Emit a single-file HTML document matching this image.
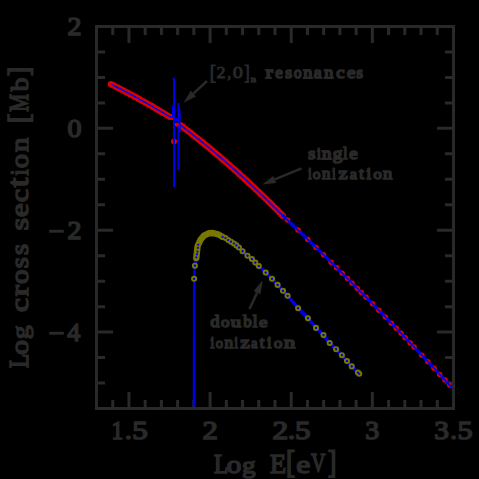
<!DOCTYPE html>
<html><head><meta charset="utf-8"><style>
html,body{margin:0;padding:0;background:#000;width:479px;height:479px;overflow:hidden}
svg{display:block}

</style></head><body>
<svg width="479" height="479" viewBox="0 0 479 479">
<rect width="479" height="479" fill="#000"/>
<rect x="96.5" y="26.5" width="357" height="382" fill="none" stroke="#292929" stroke-width="3"/>
<path d="M112.73 408.5V400.0M112.73 26.5V35.0M128.95 408.5V392.0M128.95 26.5V43.0M145.18 408.5V400.0M145.18 26.5V35.0M161.41 408.5V400.0M161.41 26.5V35.0M177.63 408.5V400.0M177.63 26.5V35.0M193.86 408.5V400.0M193.86 26.5V35.0M210.09 408.5V392.0M210.09 26.5V43.0M226.32 408.5V400.0M226.32 26.5V35.0M242.54 408.5V400.0M242.54 26.5V35.0M258.77 408.5V400.0M258.77 26.5V35.0M275.00 408.5V400.0M275.00 26.5V35.0M291.22 408.5V392.0M291.22 26.5V43.0M307.45 408.5V400.0M307.45 26.5V35.0M323.68 408.5V400.0M323.68 26.5V35.0M339.90 408.5V400.0M339.90 26.5V35.0M356.13 408.5V400.0M356.13 26.5V35.0M372.36 408.5V392.0M372.36 26.5V43.0M388.59 408.5V400.0M388.59 26.5V35.0M404.81 408.5V400.0M404.81 26.5V35.0M421.04 408.5V400.0M421.04 26.5V35.0M437.27 408.5V400.0M437.27 26.5V35.0M96.5 51.97H105.0M453.5 51.97H445.0M96.5 77.43H105.0M453.5 77.43H445.0M96.5 102.90H105.0M453.5 102.90H445.0M96.5 128.37H113.0M453.5 128.37H437.0M96.5 153.83H105.0M453.5 153.83H445.0M96.5 179.30H105.0M453.5 179.30H445.0M96.5 204.77H105.0M453.5 204.77H445.0M96.5 230.24H113.0M453.5 230.24H437.0M96.5 255.70H105.0M453.5 255.70H445.0M96.5 281.17H105.0M453.5 281.17H445.0M96.5 306.64H105.0M453.5 306.64H445.0M96.5 332.10H113.0M453.5 332.10H437.0M96.5 357.57H105.0M453.5 357.57H445.0M96.5 383.04H105.0M453.5 383.04H445.0" stroke="#292929" stroke-width="3" fill="none"/>
<g font-family="Liberation Serif" fill="#292929" stroke="#292929" stroke-width="1.7">
<text transform="matrix(0.9981 0 0 0.9091 67.62 34.63)" font-size="28">2</text>
<text transform="matrix(1.0024 0 0 0.9371 67.48 137.15)" font-size="28">0</text>
<text transform="matrix(0.9981 0 0 0.9091 67.62 238.63)" font-size="28">2</text>
<text transform="matrix(0.9310 0 0 0.9290 67.28 341.21)" font-size="28">4</text>
<rect x="49.2" y="229.8" width="14.6" height="2.9" fill="#292929" stroke="none"/>
<rect x="49.2" y="331.8" width="14.6" height="2.9" fill="#292929" stroke="none"/>
<text transform="matrix(0.8306 0 0 0.9166 111.46 438.82)" font-size="28">1</text>
<text transform="matrix(1.1095 0 0 0.9110 132.14 438.58)" font-size="28">5</text>
<text transform="matrix(1.0909 0 0 0.9141 202.48 438.82)" font-size="28">2</text>
<text transform="matrix(1.1142 0 0 0.9141 272.38 438.82)" font-size="28">2</text>
<text transform="matrix(1.1095 0 0 0.9110 295.04 438.58)" font-size="28">5</text>
<text transform="matrix(0.9950 0 0 0.9019 365.31 438.59)" font-size="28">3</text>
<text transform="matrix(1.0478 0 0 0.9019 434.29 438.59)" font-size="28">3</text>
<text transform="matrix(1.0786 0 0 0.9110 457.46 438.58)" font-size="28">5</text>
<text transform="matrix(1.0382 0 0 0.9184 124.77 439.26)" font-size="28">.</text>
<text transform="matrix(1.0582 0 0 0.9184 287.65 439.26)" font-size="28">.</text>
<text transform="matrix(0.9584 0 0 0.9184 450.15 439.26)" font-size="28">.</text>
<text transform="matrix(0.8077 0 0 0.9425 214.11 472.80)" font-size="29">L</text>
<text transform="matrix(1.0078 0 0 0.8819 226.84 472.80)" font-size="29">o</text>
<text transform="matrix(0.9374 0 0 0.8318 241.93 473.09)" font-size="29">g</text>
<text transform="matrix(0.9104 0 0 0.9280 269.91 472.91)" font-size="29">E</text>
<text transform="matrix(0.9317 0 0 1.0622 286.09 472.98)" font-size="29">[</text>
<text transform="matrix(1.0858 0 0 0.8947 296.29 472.79)" font-size="29">e</text>
<text transform="matrix(0.6912 0 0 0.9182 311.06 472.42)" font-size="29">V</text>
<text transform="matrix(0.8582 0 0 1.0622 328.03 472.98)" font-size="29">]</text>
<g transform="rotate(-90)">
<text transform="matrix(0.8018 0 0 0.9522 -367.89 27.89)" font-size="29">L</text>
<text transform="matrix(1.0221 0 0 0.8755 -354.66 27.91)" font-size="29">o</text>
<text transform="matrix(0.9582 0 0 0.8231 -339.18 27.95)" font-size="29">g</text>
<text transform="matrix(1.0895 0 0 0.8947 -311.98 27.99)" font-size="29">c</text>
<text transform="matrix(1.1500 0 0 0.8786 -296.19 27.95)" font-size="29">r</text>
<text transform="matrix(0.9935 0 0 0.8755 -283.95 27.91)" font-size="29">o</text>
<text transform="matrix(0.9862 0 0 0.8755 -268.13 27.91)" font-size="29">s</text>
<text transform="matrix(0.9862 0 0 0.8755 -254.93 27.91)" font-size="29">s</text>
<text transform="matrix(1.1258 0 0 0.8755 -230.38 27.91)" font-size="29">s</text>
<text transform="matrix(1.0536 0 0 0.8755 -217.10 27.91)" font-size="29">e</text>
<text transform="matrix(1.0417 0 0 0.8691 -202.17 27.92)" font-size="29">c</text>
<text transform="matrix(1.1500 0 0 1.0213 -186.95 27.74)" font-size="29">t</text>
<text transform="matrix(0.7794 0 0 0.8851 -175.51 27.95)" font-size="29">i</text>
<text transform="matrix(0.9863 0 0 0.8947 -168.25 27.99)" font-size="29">o</text>
<text transform="matrix(0.9937 0 0 0.9047 -151.92 28.13)" font-size="29">n</text>
<text transform="matrix(0.9930 0 0 1.0505 -123.29 28.33)" font-size="29">[</text>
<text transform="matrix(0.6938 0 0 0.9377 -111.69 27.80)" font-size="29">M</text>
<text transform="matrix(0.9407 0 0 0.8867 -91.30 27.80)" font-size="29">b</text>
<text transform="matrix(0.9440 0 0 1.0505 -75.89 28.33)" font-size="29">]</text>
</g>
<text transform="matrix(1.0391 0 0 0.8754 265.72 77.72)" font-size="20" stroke-width="2.0">r</text>
<text transform="matrix(0.8402 0 0 0.8606 275.18 77.57)" font-size="20" stroke-width="2.0">e</text>
<text transform="matrix(0.8859 0 0 0.8606 285.16 77.57)" font-size="20" stroke-width="2.0">s</text>
<text transform="matrix(0.7541 0 0 0.8606 293.98 77.57)" font-size="20" stroke-width="2.0">o</text>
<text transform="matrix(0.9076 0 0 0.8754 303.19 77.72)" font-size="20" stroke-width="2.0">n</text>
<text transform="matrix(0.8889 0 0 0.8636 313.86 77.57)" font-size="20" stroke-width="2.0">a</text>
<text transform="matrix(0.9076 0 0 0.8754 324.19 77.72)" font-size="20" stroke-width="2.0">n</text>
<text transform="matrix(0.9263 0 0 0.8606 336.22 77.57)" font-size="20" stroke-width="2.0">c</text>
<text transform="matrix(0.9359 0 0 0.8606 347.00 77.57)" font-size="20" stroke-width="2.0">e</text>
<text transform="matrix(0.8252 0 0 0.8606 356.45 77.57)" font-size="20" stroke-width="2.0">s</text>
<text transform="matrix(0.9102 0 0 0.8606 308.26 158.97)" font-size="20" stroke-width="2.0">s</text>
<text transform="matrix(0.6957 0 0 0.8463 316.90 159.15)" font-size="20" stroke-width="2.0">i</text>
<text transform="matrix(0.9432 0 0 0.8754 322.01 159.12)" font-size="20" stroke-width="2.0">n</text>
<text transform="matrix(0.9573 0 0 0.8263 332.63 159.31)" font-size="20" stroke-width="2.0">g</text>
<text transform="matrix(0.7401 0 0 0.8125 343.24 159.19)" font-size="20" stroke-width="2.0">l</text>
<text transform="matrix(0.9359 0 0 0.8606 349.30 158.97)" font-size="20" stroke-width="2.0">e</text>
<text transform="matrix(0.5921 0 0 0.8201 308.34 179.18)" font-size="20" stroke-width="2.0">i</text>
<text transform="matrix(0.7636 0 0 0.7746 312.68 179.07)" font-size="20" stroke-width="2.0">o</text>
<text transform="matrix(0.8453 0 0 0.7878 321.96 179.21)" font-size="20" stroke-width="2.0">n</text>
<text transform="matrix(0.5921 0 0 0.8201 332.34 179.18)" font-size="20" stroke-width="2.0">i</text>
<text transform="matrix(1.0222 0 0 0.8050 338.47 179.19)" font-size="20" stroke-width="2.0">z</text>
<text transform="matrix(0.8080 0 0 0.7772 349.74 179.07)" font-size="20" stroke-width="2.0">a</text>
<text transform="matrix(0.8283 0 0 0.8547 359.17 178.98)" font-size="20" stroke-width="2.0">t</text>
<text transform="matrix(0.8141 0 0 0.8201 366.47 179.18)" font-size="20" stroke-width="2.0">i</text>
<text transform="matrix(0.8591 0 0 0.7746 373.20 179.07)" font-size="20" stroke-width="2.0">o</text>
<text transform="matrix(0.9254 0 0 0.7878 383.10 179.21)" font-size="20" stroke-width="2.0">n</text>
<text transform="matrix(0.8973 0 0 0.7902 210.55 326.76)" font-size="20" stroke-width="2.0">d</text>
<text transform="matrix(0.8495 0 0 0.7574 221.10 326.79)" font-size="20" stroke-width="2.0">o</text>
<text transform="matrix(1.0356 0 0 0.7736 230.86 326.78)" font-size="20" stroke-width="2.0">u</text>
<text transform="matrix(0.8453 0 0 0.7902 243.15 326.76)" font-size="20" stroke-width="2.0">b</text>
<text transform="matrix(0.8437 0 0 0.7999 252.71 326.90)" font-size="20" stroke-width="2.0">l</text>
<text transform="matrix(0.9466 0 0 0.7574 259.11 326.79)" font-size="20" stroke-width="2.0">e</text>
<text transform="matrix(0.6661 0 0 0.7873 210.39 347.71)" font-size="20" stroke-width="2.0">i</text>
<text transform="matrix(0.7159 0 0 0.7746 215.67 347.57)" font-size="20" stroke-width="2.0">o</text>
<text transform="matrix(0.8542 0 0 0.7878 224.46 347.71)" font-size="20" stroke-width="2.0">n</text>
<text transform="matrix(0.5921 0 0 0.7873 234.54 347.71)" font-size="20" stroke-width="2.0">i</text>
<text transform="matrix(1.0222 0 0 0.8050 240.47 347.69)" font-size="20" stroke-width="2.0">z</text>
<text transform="matrix(0.7272 0 0 0.7772 251.02 347.57)" font-size="20" stroke-width="2.0">a</text>
<text transform="matrix(0.8283 0 0 0.8175 259.67 347.52)" font-size="20" stroke-width="2.0">t</text>
<text transform="matrix(0.8141 0 0 0.7873 266.97 347.71)" font-size="20" stroke-width="2.0">i</text>
<text transform="matrix(0.8591 0 0 0.7746 273.70 347.57)" font-size="20" stroke-width="2.0">o</text>
<text transform="matrix(1.1123 0 0 0.7878 284.10 347.71)" font-size="20" stroke-width="2.0">n</text>
<text transform="matrix(0.9169 0 0 1.0711 209.70 78.50)" font-size="20" stroke-width="1.0">[</text>
<text transform="matrix(0.8982 0 0 0.8426 216.56 77.58)" font-size="20" stroke-width="1.0">2</text>
<text transform="matrix(0.7792 0 0 0.7985 227.30 77.64)" font-size="20" stroke-width="1.0">,</text>
<text transform="matrix(1.0130 0 0 0.8830 232.73 78.19)" font-size="20" stroke-width="1.0">0</text>
<text transform="matrix(0.8069 0 0 1.0711 244.22 78.50)" font-size="20" stroke-width="1.0">]</text>
<text transform="matrix(1.0643 0 0 0.8317 250.65 81.96)" font-size="10" stroke-width="1.3">n</text>
</g>
<line x1="207" y1="81" x2="193.4" y2="93.6" stroke="#292929" stroke-width="2.5"/><polygon points="183.5,102.8 190.8,90.8 196.0,96.4" fill="#292929"/>
<line x1="301.5" y1="168.4" x2="274.8" y2="179.4" stroke="#292929" stroke-width="2.5"/><polygon points="262.3,184.5 273.3,175.9 276.2,182.9" fill="#292929"/>
<line x1="249.5" y1="309" x2="257.1" y2="292.6" stroke="#292929" stroke-width="2.5"/><polygon points="262.7,280.3 260.5,294.2 253.6,291.0" fill="#292929"/>
<clipPath id="c"><rect x="97.5" y="27.5" width="354" height="379"/></clipPath>
<g clip-path="url(#c)">
<polyline points="111.00,84.18 114.00,85.69 117.00,87.22 120.00,88.77 123.00,90.34 126.00,91.92 129.00,93.51 132.00,95.13 135.00,96.76 138.00,98.40 141.00,100.06 144.00,101.74 147.00,103.44 150.00,105.15 153.00,106.88 156.00,108.62 159.00,110.39 162.00,112.16 165.00,113.96 168.00,115.77 172.00,117.50" fill="none" stroke="#dc0000" stroke-width="4.6" stroke-linecap="round" stroke-linejoin="round"/>
<polyline points="180.50,125.18 183.50,127.46 186.50,129.76 189.50,132.08 192.50,134.42 195.50,136.79 198.50,139.18 201.50,141.60 204.50,144.04 207.50,146.50 210.50,148.98 213.50,151.48 216.50,154.01 219.50,156.57 222.50,159.14 225.50,161.74 228.50,164.36 231.50,167.00 234.50,169.67 237.50,172.36 240.50,175.07 243.50,177.80 246.50,180.56 249.50,183.34 252.50,186.14 255.50,188.97 258.50,191.82 261.50,194.69 264.50,197.58 267.50,200.50 270.50,203.44 273.50,206.41 276.50,209.39 279.50,212.40 282.50,215.43" fill="none" stroke="#dc0000" stroke-width="4.6" stroke-linecap="round" stroke-linejoin="round"/>
<path d="M107.80 84.18a3.2 3.2 0 1 0 6.4 0a3.2 3.2 0 1 0 -6.4 0M109.94 85.26a3.2 3.2 0 1 0 6.4 0a3.2 3.2 0 1 0 -6.4 0M112.09 86.35a3.2 3.2 0 1 0 6.4 0a3.2 3.2 0 1 0 -6.4 0M114.22 87.44a3.2 3.2 0 1 0 6.4 0a3.2 3.2 0 1 0 -6.4 0M116.36 88.54a3.2 3.2 0 1 0 6.4 0a3.2 3.2 0 1 0 -6.4 0M118.49 89.65a3.2 3.2 0 1 0 6.4 0a3.2 3.2 0 1 0 -6.4 0M120.62 90.76a3.2 3.2 0 1 0 6.4 0a3.2 3.2 0 1 0 -6.4 0M122.74 91.89a3.2 3.2 0 1 0 6.4 0a3.2 3.2 0 1 0 -6.4 0M124.86 93.01a3.2 3.2 0 1 0 6.4 0a3.2 3.2 0 1 0 -6.4 0M126.98 94.15a3.2 3.2 0 1 0 6.4 0a3.2 3.2 0 1 0 -6.4 0M129.10 95.29a3.2 3.2 0 1 0 6.4 0a3.2 3.2 0 1 0 -6.4 0M131.21 96.43a3.2 3.2 0 1 0 6.4 0a3.2 3.2 0 1 0 -6.4 0M133.31 97.58a3.2 3.2 0 1 0 6.4 0a3.2 3.2 0 1 0 -6.4 0M135.42 98.74a3.2 3.2 0 1 0 6.4 0a3.2 3.2 0 1 0 -6.4 0M137.52 99.91a3.2 3.2 0 1 0 6.4 0a3.2 3.2 0 1 0 -6.4 0M139.62 101.08a3.2 3.2 0 1 0 6.4 0a3.2 3.2 0 1 0 -6.4 0M141.71 102.26a3.2 3.2 0 1 0 6.4 0a3.2 3.2 0 1 0 -6.4 0M143.80 103.44a3.2 3.2 0 1 0 6.4 0a3.2 3.2 0 1 0 -6.4 0M145.89 104.63a3.2 3.2 0 1 0 6.4 0a3.2 3.2 0 1 0 -6.4 0M147.97 105.82a3.2 3.2 0 1 0 6.4 0a3.2 3.2 0 1 0 -6.4 0M150.05 107.02a3.2 3.2 0 1 0 6.4 0a3.2 3.2 0 1 0 -6.4 0M152.13 108.23a3.2 3.2 0 1 0 6.4 0a3.2 3.2 0 1 0 -6.4 0M154.20 109.44a3.2 3.2 0 1 0 6.4 0a3.2 3.2 0 1 0 -6.4 0M156.27 110.66a3.2 3.2 0 1 0 6.4 0a3.2 3.2 0 1 0 -6.4 0M158.34 111.89a3.2 3.2 0 1 0 6.4 0a3.2 3.2 0 1 0 -6.4 0M160.40 113.12a3.2 3.2 0 1 0 6.4 0a3.2 3.2 0 1 0 -6.4 0M162.46 114.35a3.2 3.2 0 1 0 6.4 0a3.2 3.2 0 1 0 -6.4 0M164.51 115.60a3.2 3.2 0 1 0 6.4 0a3.2 3.2 0 1 0 -6.4 0M166.57 116.84a3.2 3.2 0 1 0 6.4 0a3.2 3.2 0 1 0 -6.4 0M177.30 125.18a3.2 3.2 0 1 0 6.4 0a3.2 3.2 0 1 0 -6.4 0M179.22 126.63a3.2 3.2 0 1 0 6.4 0a3.2 3.2 0 1 0 -6.4 0M181.13 128.09a3.2 3.2 0 1 0 6.4 0a3.2 3.2 0 1 0 -6.4 0M183.03 129.55a3.2 3.2 0 1 0 6.4 0a3.2 3.2 0 1 0 -6.4 0M184.93 131.02a3.2 3.2 0 1 0 6.4 0a3.2 3.2 0 1 0 -6.4 0M186.83 132.49a3.2 3.2 0 1 0 6.4 0a3.2 3.2 0 1 0 -6.4 0M188.72 133.97a3.2 3.2 0 1 0 6.4 0a3.2 3.2 0 1 0 -6.4 0M190.61 135.46a3.2 3.2 0 1 0 6.4 0a3.2 3.2 0 1 0 -6.4 0M192.50 136.95a3.2 3.2 0 1 0 6.4 0a3.2 3.2 0 1 0 -6.4 0M194.38 138.45a3.2 3.2 0 1 0 6.4 0a3.2 3.2 0 1 0 -6.4 0M196.25 139.95a3.2 3.2 0 1 0 6.4 0a3.2 3.2 0 1 0 -6.4 0M198.12 141.46a3.2 3.2 0 1 0 6.4 0a3.2 3.2 0 1 0 -6.4 0M199.99 142.97a3.2 3.2 0 1 0 6.4 0a3.2 3.2 0 1 0 -6.4 0M201.85 144.49a3.2 3.2 0 1 0 6.4 0a3.2 3.2 0 1 0 -6.4 0M203.71 146.01a3.2 3.2 0 1 0 6.4 0a3.2 3.2 0 1 0 -6.4 0M205.56 147.54a3.2 3.2 0 1 0 6.4 0a3.2 3.2 0 1 0 -6.4 0M207.41 149.07a3.2 3.2 0 1 0 6.4 0a3.2 3.2 0 1 0 -6.4 0M209.26 150.61a3.2 3.2 0 1 0 6.4 0a3.2 3.2 0 1 0 -6.4 0M211.10 152.16a3.2 3.2 0 1 0 6.4 0a3.2 3.2 0 1 0 -6.4 0M212.94 153.71a3.2 3.2 0 1 0 6.4 0a3.2 3.2 0 1 0 -6.4 0M214.77 155.26a3.2 3.2 0 1 0 6.4 0a3.2 3.2 0 1 0 -6.4 0M216.60 156.82a3.2 3.2 0 1 0 6.4 0a3.2 3.2 0 1 0 -6.4 0M218.42 158.38a3.2 3.2 0 1 0 6.4 0a3.2 3.2 0 1 0 -6.4 0M220.24 159.95a3.2 3.2 0 1 0 6.4 0a3.2 3.2 0 1 0 -6.4 0M222.06 161.53a3.2 3.2 0 1 0 6.4 0a3.2 3.2 0 1 0 -6.4 0M223.87 163.10a3.2 3.2 0 1 0 6.4 0a3.2 3.2 0 1 0 -6.4 0M225.68 164.69a3.2 3.2 0 1 0 6.4 0a3.2 3.2 0 1 0 -6.4 0M227.48 166.27a3.2 3.2 0 1 0 6.4 0a3.2 3.2 0 1 0 -6.4 0M229.28 167.87a3.2 3.2 0 1 0 6.4 0a3.2 3.2 0 1 0 -6.4 0M231.07 169.46a3.2 3.2 0 1 0 6.4 0a3.2 3.2 0 1 0 -6.4 0M232.86 171.07a3.2 3.2 0 1 0 6.4 0a3.2 3.2 0 1 0 -6.4 0M234.65 172.67a3.2 3.2 0 1 0 6.4 0a3.2 3.2 0 1 0 -6.4 0M236.43 174.28a3.2 3.2 0 1 0 6.4 0a3.2 3.2 0 1 0 -6.4 0M238.21 175.90a3.2 3.2 0 1 0 6.4 0a3.2 3.2 0 1 0 -6.4 0M239.99 177.52a3.2 3.2 0 1 0 6.4 0a3.2 3.2 0 1 0 -6.4 0M241.76 179.14a3.2 3.2 0 1 0 6.4 0a3.2 3.2 0 1 0 -6.4 0M243.53 180.77a3.2 3.2 0 1 0 6.4 0a3.2 3.2 0 1 0 -6.4 0M245.29 182.40a3.2 3.2 0 1 0 6.4 0a3.2 3.2 0 1 0 -6.4 0M247.05 184.04a3.2 3.2 0 1 0 6.4 0a3.2 3.2 0 1 0 -6.4 0M248.80 185.68a3.2 3.2 0 1 0 6.4 0a3.2 3.2 0 1 0 -6.4 0M250.56 187.32a3.2 3.2 0 1 0 6.4 0a3.2 3.2 0 1 0 -6.4 0M252.30 188.97a3.2 3.2 0 1 0 6.4 0a3.2 3.2 0 1 0 -6.4 0M254.05 190.62a3.2 3.2 0 1 0 6.4 0a3.2 3.2 0 1 0 -6.4 0M255.79 192.28a3.2 3.2 0 1 0 6.4 0a3.2 3.2 0 1 0 -6.4 0M257.52 193.94a3.2 3.2 0 1 0 6.4 0a3.2 3.2 0 1 0 -6.4 0M259.25 195.61a3.2 3.2 0 1 0 6.4 0a3.2 3.2 0 1 0 -6.4 0M260.98 197.28a3.2 3.2 0 1 0 6.4 0a3.2 3.2 0 1 0 -6.4 0M262.71 198.95a3.2 3.2 0 1 0 6.4 0a3.2 3.2 0 1 0 -6.4 0M264.43 200.63a3.2 3.2 0 1 0 6.4 0a3.2 3.2 0 1 0 -6.4 0M266.14 202.31a3.2 3.2 0 1 0 6.4 0a3.2 3.2 0 1 0 -6.4 0M267.86 203.99a3.2 3.2 0 1 0 6.4 0a3.2 3.2 0 1 0 -6.4 0M269.57 205.68a3.2 3.2 0 1 0 6.4 0a3.2 3.2 0 1 0 -6.4 0M271.27 207.37a3.2 3.2 0 1 0 6.4 0a3.2 3.2 0 1 0 -6.4 0M272.97 209.07a3.2 3.2 0 1 0 6.4 0a3.2 3.2 0 1 0 -6.4 0M274.67 210.77a3.2 3.2 0 1 0 6.4 0a3.2 3.2 0 1 0 -6.4 0M276.37 212.47a3.2 3.2 0 1 0 6.4 0a3.2 3.2 0 1 0 -6.4 0M278.06 214.18a3.2 3.2 0 1 0 6.4 0a3.2 3.2 0 1 0 -6.4 0M279.75 215.89a3.2 3.2 0 1 0 6.4 0a3.2 3.2 0 1 0 -6.4 0" fill="#dc0000"/>
<polyline points="111.00,84.18 114.00,85.69 117.00,87.22 120.00,88.77 123.00,90.34 126.00,91.92 129.00,93.51 132.00,95.13 135.00,96.76 138.00,98.40 141.00,100.06 144.00,101.74 147.00,103.44 150.00,105.15 153.00,106.88 156.00,108.62 159.00,110.39 162.00,112.16 165.00,113.96 168.00,115.77 172.00,117.50" fill="none" stroke="#0000e8" stroke-width="1.5"/>
<polyline points="180.50,125.18 183.50,127.46 186.50,129.76 189.50,132.08 192.50,134.42 195.50,136.79 198.50,139.18 201.50,141.60 204.50,144.04 207.50,146.50 210.50,148.98 213.50,151.48 216.50,154.01 219.50,156.57 222.50,159.14 225.50,161.74 228.50,164.36 231.50,167.00 234.50,169.67 237.50,172.36 240.50,175.07 243.50,177.80 246.50,180.56 249.50,183.34 252.50,186.14 255.50,188.97 258.50,191.82 261.50,194.69 264.50,197.58 267.50,200.50 270.50,203.44 273.50,206.41 276.50,209.39 279.50,212.40 282.50,215.43" fill="none" stroke="#0000e8" stroke-width="1.5"/>
<polyline points="282.00,214.90 286.00,218.68 290.00,222.48 294.00,226.29 298.00,230.11 302.00,233.95 306.00,237.80 310.00,241.66 314.00,245.54 318.00,249.43 322.00,253.33 326.00,257.25 330.00,261.19 334.00,265.13 338.00,269.09 342.00,273.07 346.00,277.05 350.00,281.05 354.00,285.07 358.00,289.10 362.00,293.14 366.00,297.19 370.00,301.26 374.00,305.35 378.00,309.44 382.00,313.56 386.00,317.68 390.00,321.82 394.00,325.97 398.00,330.13 402.00,334.31 406.00,338.51 410.00,342.71 414.00,346.93 418.00,351.17 422.00,355.42 426.00,359.68 430.00,363.95 434.00,368.24 438.00,372.54 442.00,376.86 446.00,381.19 450.00,385.53 454.00,389.89" fill="none" stroke="#0000e8" stroke-width="3.2"/>
<circle cx="287.5" cy="220.10" r="2.75" fill="#dc0000"/>
<circle cx="298" cy="230.11" r="2.75" fill="#dc0000"/>
<circle cx="307.8" cy="239.53" r="2.75" fill="#dc0000"/>
<circle cx="316" cy="247.48" r="2.75" fill="#dc0000"/>
<circle cx="323.5" cy="254.80" r="2.75" fill="#dc0000"/>
<circle cx="331" cy="262.17" r="2.75" fill="#dc0000"/>
<circle cx="336.6" cy="267.70" r="2.75" fill="#dc0000"/>
<circle cx="342.2" cy="273.26" r="2.75" fill="#dc0000"/>
<circle cx="347.5" cy="278.55" r="2.75" fill="#dc0000"/>
<circle cx="352.1" cy="283.16" r="2.75" fill="#dc0000"/>
<circle cx="357.3" cy="288.39" r="2.75" fill="#dc0000"/>
<circle cx="361.3" cy="292.43" r="2.75" fill="#dc0000"/>
<circle cx="366" cy="297.19" r="2.75" fill="#dc0000"/>
<circle cx="372.5" cy="303.81" r="2.75" fill="#dc0000"/>
<circle cx="378.8" cy="310.27" r="2.75" fill="#dc0000"/>
<circle cx="385.4" cy="317.06" r="2.75" fill="#dc0000"/>
<circle cx="391.3" cy="323.17" r="2.75" fill="#dc0000"/>
<circle cx="396.2" cy="328.26" r="2.75" fill="#dc0000"/>
<circle cx="401.1" cy="333.37" r="2.75" fill="#dc0000"/>
<circle cx="405.2" cy="337.67" r="2.75" fill="#dc0000"/>
<circle cx="410.2" cy="342.92" r="2.75" fill="#dc0000"/>
<circle cx="414.1" cy="347.04" r="2.75" fill="#dc0000"/>
<circle cx="421.8" cy="355.20" r="2.75" fill="#dc0000"/>
<circle cx="427.9" cy="361.71" r="2.75" fill="#dc0000"/>
<circle cx="434" cy="368.24" r="2.75" fill="#dc0000"/>
<circle cx="439.7" cy="374.38" r="2.75" fill="#dc0000"/>
<circle cx="445" cy="380.11" r="2.75" fill="#dc0000"/>
<circle cx="449.8" cy="385.32" r="2.75" fill="#dc0000"/>
<polyline points="282.00,214.90 286.00,218.68 290.00,222.48 294.00,226.29 298.00,230.11 302.00,233.95 306.00,237.80 310.00,241.66 314.00,245.54 318.00,249.43 322.00,253.33 326.00,257.25 330.00,261.19 334.00,265.13 338.00,269.09 342.00,273.07 346.00,277.05 350.00,281.05 354.00,285.07 358.00,289.10 362.00,293.14 366.00,297.19 370.00,301.26 374.00,305.35 378.00,309.44 382.00,313.56 386.00,317.68 390.00,321.82 394.00,325.97 398.00,330.13 402.00,334.31 406.00,338.51 410.00,342.71 414.00,346.93 418.00,351.17 422.00,355.42 426.00,359.68 430.00,363.95 434.00,368.24 438.00,372.54 442.00,376.86 446.00,381.19 450.00,385.53 454.00,389.89" fill="none" stroke="#0000e8" stroke-width="1.8"/>
<g fill="#0000e8"><rect x="173" y="78" width="2" height="109"/><rect x="172" y="106" width="1" height="12"/><rect x="177.5" y="103" width="2" height="67"/><rect x="179.5" y="110" width="1.2" height="22"/><rect x="175" y="118" width="2.5" height="3"/></g>
<circle cx="176.6" cy="124.6" r="2.1" fill="#dc0000"/>
<circle cx="174" cy="141.5" r="3" fill="#dc0000"/>
<rect x="173" y="120" width="2" height="67" fill="#0000e8"/>
<polyline points="193.9,410 194.1,278.8 194.9,265.7" fill="none" stroke="#0000e8" stroke-width="2.3"/>
<polyline points="194.90,265.70 196.30,258.00 197.60,246.00 200.50,239.80 204.00,235.60 208.50,233.30 213.00,233.00 218.00,234.30 221.50,236.20 222.60,236.90 225.50,238.00 228.20,240.00 231.00,241.70 233.90,243.50 236.40,245.40 238.90,247.50 242.60,251.30 247.50,255.70 251.90,259.00 255.30,262.60 258.80,266.00 265.70,272.60 272.00,278.80 277.60,284.90 283.00,290.80 287.60,295.80 298.10,308.20 307.90,318.20 316.00,327.90 323.50,335.10 329.70,343.00 336.10,349.20 341.90,355.20 347.00,361.00 351.70,366.40 357.90,372.60 359.20,373.80" fill="none" stroke="#0000e8" stroke-width="3.4"/>
<polyline points="196.30,258.00 197.60,246.00 200.50,239.80 204.00,235.60 208.50,233.30 213.00,233.00 218.00,234.30 221.50,236.20" fill="none" stroke="#787700" stroke-width="6.4" stroke-linecap="round" stroke-linejoin="round"/>
<circle cx="194.1" cy="278.8" r="2.0" fill="none" stroke="#787700" stroke-width="2.1"/>
<circle cx="194.9" cy="265.7" r="2.0" fill="none" stroke="#787700" stroke-width="2.1"/>
<circle cx="222.6" cy="236.9" r="2.0" fill="none" stroke="#787700" stroke-width="2.1"/>
<circle cx="225.5" cy="238" r="2.0" fill="none" stroke="#787700" stroke-width="2.1"/>
<circle cx="228.2" cy="240" r="2.0" fill="none" stroke="#787700" stroke-width="2.1"/>
<circle cx="231" cy="241.7" r="2.0" fill="none" stroke="#787700" stroke-width="2.1"/>
<circle cx="233.9" cy="243.5" r="2.0" fill="none" stroke="#787700" stroke-width="2.1"/>
<circle cx="236.4" cy="245.4" r="2.0" fill="none" stroke="#787700" stroke-width="2.1"/>
<circle cx="238.9" cy="247.5" r="2.0" fill="none" stroke="#787700" stroke-width="2.1"/>
<circle cx="242.6" cy="251.3" r="2.0" fill="none" stroke="#787700" stroke-width="2.1"/>
<circle cx="247.5" cy="255.7" r="2.0" fill="none" stroke="#787700" stroke-width="2.1"/>
<circle cx="251.9" cy="259" r="2.0" fill="none" stroke="#787700" stroke-width="2.1"/>
<circle cx="255.3" cy="262.6" r="2.0" fill="none" stroke="#787700" stroke-width="2.1"/>
<circle cx="258.8" cy="266" r="2.0" fill="none" stroke="#787700" stroke-width="2.1"/>
<circle cx="265.7" cy="272.6" r="2.0" fill="none" stroke="#787700" stroke-width="2.1"/>
<circle cx="272" cy="278.8" r="2.0" fill="none" stroke="#787700" stroke-width="2.1"/>
<circle cx="277.6" cy="284.9" r="2.0" fill="none" stroke="#787700" stroke-width="2.1"/>
<circle cx="283" cy="290.8" r="2.0" fill="none" stroke="#787700" stroke-width="2.1"/>
<circle cx="287.6" cy="295.8" r="2.0" fill="none" stroke="#787700" stroke-width="2.1"/>
<circle cx="298.1" cy="308.2" r="2.0" fill="none" stroke="#787700" stroke-width="2.1"/>
<circle cx="307.9" cy="318.2" r="2.0" fill="none" stroke="#787700" stroke-width="2.1"/>
<circle cx="316" cy="327.9" r="2.0" fill="none" stroke="#787700" stroke-width="2.1"/>
<circle cx="323.5" cy="335.1" r="2.0" fill="none" stroke="#787700" stroke-width="2.1"/>
<circle cx="329.7" cy="343" r="2.0" fill="none" stroke="#787700" stroke-width="2.1"/>
<circle cx="336.1" cy="349.2" r="2.0" fill="none" stroke="#787700" stroke-width="2.1"/>
<circle cx="341.9" cy="355.2" r="2.0" fill="none" stroke="#787700" stroke-width="2.1"/>
<circle cx="347" cy="361" r="2.0" fill="none" stroke="#787700" stroke-width="2.1"/>
<circle cx="351.7" cy="366.4" r="2.0" fill="none" stroke="#787700" stroke-width="2.1"/>
<circle cx="357.9" cy="372.6" r="2.0" fill="none" stroke="#787700" stroke-width="2.1"/>
<circle cx="359.2" cy="373.8" r="2.0" fill="none" stroke="#787700" stroke-width="2.1"/>
<circle cx="194.1" cy="278.8" r="1.1" fill="#0000e8"/>
<circle cx="194.9" cy="265.7" r="1.1" fill="#0000e8"/>
<circle cx="222.6" cy="236.9" r="1.1" fill="#0000e8"/>
<circle cx="225.5" cy="238" r="1.1" fill="#0000e8"/>
<circle cx="228.2" cy="240" r="1.1" fill="#0000e8"/>
<circle cx="231" cy="241.7" r="1.1" fill="#0000e8"/>
<circle cx="233.9" cy="243.5" r="1.1" fill="#0000e8"/>
<circle cx="236.4" cy="245.4" r="1.1" fill="#0000e8"/>
<circle cx="238.9" cy="247.5" r="1.1" fill="#0000e8"/>
<circle cx="242.6" cy="251.3" r="1.1" fill="#0000e8"/>
<circle cx="247.5" cy="255.7" r="1.1" fill="#0000e8"/>
<circle cx="251.9" cy="259" r="1.1" fill="#0000e8"/>
<circle cx="255.3" cy="262.6" r="1.1" fill="#0000e8"/>
<circle cx="258.8" cy="266" r="1.1" fill="#0000e8"/>
<circle cx="265.7" cy="272.6" r="1.1" fill="#0000e8"/>
<circle cx="272" cy="278.8" r="1.1" fill="#0000e8"/>
<circle cx="277.6" cy="284.9" r="1.1" fill="#0000e8"/>
<circle cx="283" cy="290.8" r="1.1" fill="#0000e8"/>
<circle cx="287.6" cy="295.8" r="1.1" fill="#0000e8"/>
<circle cx="298.1" cy="308.2" r="1.1" fill="#0000e8"/>
<circle cx="307.9" cy="318.2" r="1.1" fill="#0000e8"/>
<circle cx="316" cy="327.9" r="1.1" fill="#0000e8"/>
<circle cx="323.5" cy="335.1" r="1.1" fill="#0000e8"/>
<circle cx="329.7" cy="343" r="1.1" fill="#0000e8"/>
<circle cx="336.1" cy="349.2" r="1.1" fill="#0000e8"/>
<circle cx="341.9" cy="355.2" r="1.1" fill="#0000e8"/>
<circle cx="347" cy="361" r="1.1" fill="#0000e8"/>
<circle cx="351.7" cy="366.4" r="1.1" fill="#0000e8"/>
<circle cx="357.9" cy="372.6" r="1.1" fill="#0000e8"/>
<circle cx="359.2" cy="373.8" r="1.1" fill="#0000e8"/>
<circle cx="198.25" cy="244.75" r="1.1" fill="#0000e8"/>
<circle cx="197.9" cy="247.9" r="1.1" fill="#0000e8"/>
<circle cx="197.5" cy="251.7" r="1.1" fill="#0000e8"/>
<circle cx="197" cy="254.4" r="1.1" fill="#0000e8"/>
<circle cx="196.3" cy="257.3" r="1.1" fill="#0000e8"/>
</g>
</svg>
</body></html>
